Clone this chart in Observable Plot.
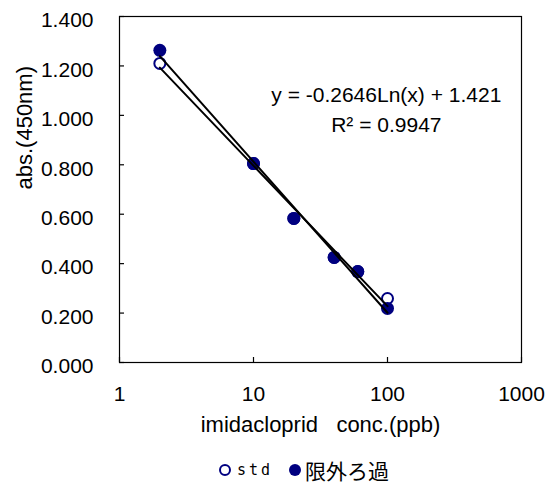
<!DOCTYPE html>
<html><head><meta charset="utf-8">
<script src="https://cdn.jsdelivr.net/npm/d3@7"></script>
<script src="https://cdn.jsdelivr.net/npm/@observablehq/plot@0.6"></script>
<style>
body{margin:0;background:#fff;font-family:"Liberation Sans",Arial,sans-serif;}
#legend{height:36px;display:flex;align-items:center;padding-left:219px;padding-top:4px;box-sizing:border-box;line-height:1;}
#legend span{line-height:1;}
#legend .sw{display:inline-block;width:12px;height:12px;border-radius:50%;box-sizing:border-box;}
</style>
</head><body><div id="chart"></div>
<script>
const concentrations = [2, 10, 20, 40, 60, 100];
const stdValues = [1.210, 0.805, 0.583, 0.425, 0.368, 0.259];
const ultraValues = [1.263, 0.805, 0.583, 0.425, 0.368, 0.219];
const seriesNames = ["std", "限外ろ過"];
const seriesColors = ["#000080", "#000080"];
const xTicks = [1, 10, 100, 1000];
const yTicks = [0, 0.2, 0.4, 0.6, 0.8, 1.0, 1.2, 1.4];
const xLabel = "imidacloprid\u00a0\u00a0\u00a0conc.(ppb)";
const yLabel = "abs.(450nm)";
const equationLines = ["y = -0.2646Ln(x) + 1.421", "R² = 0.9947"];
const equationX = [98, 98];
const equationY = [1.081, 0.959];

const table = concentrations.map((c, i) => ({c, std: stdValues[i], ultra: ultraValues[i]}));

function logFit(xs, ys) {
  const lx = xs.map(Math.log);
  const mx = d3.mean(lx), my = d3.mean(ys);
  const sxy = d3.sum(lx, (v, i) => (v - mx) * (ys[i] - my));
  const sxx = d3.sum(lx, v => (v - mx) ** 2);
  const a = sxy / sxx, b = my - a * mx;
  return d3.extent(xs).map(x => ({x, y: a * Math.log(x) + b}));
}

const W = 545, H = 450, mL = 119, mR = 24, mT = 16, mB = 88;
const fw = W - mL - mR, fh = H - mT - mB;

const chart = Plot.plot({
  width: W, height: H,
  marginLeft: mL, marginRight: mR, marginTop: mT, marginBottom: mB,
  style: {fontFamily: "'Liberation Sans', Arial, sans-serif", fontSize: "21px", color: "#000", background: "#fff"},
  x: {type: "log", domain: [1, 1000]},
  y: {domain: [0, 1.4]},
  marks: [
    Plot.frame({stroke: "#000", strokeWidth: 1.2}),
    Plot.tickY(yTicks, {y: d => d, insetRight: fw - 5, stroke: "#000", strokeWidth: 1.2}),
    Plot.tickX(xTicks, {x: d => d, insetTop: fh - 5, stroke: "#000", strokeWidth: 1.2}),
    Plot.axisX({ticks: xTicks, tickFormat: d => String(d), tickSize: 0, tickPadding: 24, label: null, fontSize: 21}),
    Plot.axisY({ticks: yTicks, tickFormat: d3.format(".3f"), tickSize: 0, tickPadding: 26, dy: 4, label: null, fontSize: 21}),
    Plot.text([xLabel], {frameAnchor: "bottom", dy: 69, fontSize: 22, fill: "#000"}),
    Plot.text([yLabel], {frameAnchor: "left", dx: -95, rotate: -90, fontSize: 22, fill: "#000"}),
    Plot.dot(table, {x: "c", y: "std", r: 5.5, stroke: seriesColors[0], strokeWidth: 2, fill: "#fff"}),
    Plot.dot(table, {x: "c", y: "ultra", r: 6.5, fill: seriesColors[1], stroke: "none"}),
    Plot.line(logFit(concentrations, stdValues), {x: "x", y: "y", stroke: "#000", strokeWidth: 2}),
    Plot.line(logFit(concentrations, ultraValues), {x: "x", y: "y", stroke: "#000", strokeWidth: 2}),
    Plot.text(equationLines, {x: (d, i) => equationX[i], y: (d, i) => equationY[i], fontSize: 21, fill: "#000"})
  ]
});
document.getElementById("chart").appendChild(chart);

const legend = document.createElement("div");
legend.id = "legend";
legend.innerHTML =
  `<span class="sw" style="border:2px solid ${seriesColors[0]};background:#fff"></span>` +
  `<span style="margin-left:6px;font-size:15px;letter-spacing:3px;font-family:'DejaVu Sans Mono',monospace">${seriesNames[0]}</span>` +
  `<span class="sw" style="background:${seriesColors[1]};margin-left:16px"></span>` +
  `<span style="margin-left:4px;font-size:21px;font-family:'Noto Sans CJK JP',sans-serif">${seriesNames[1]}</span>`;
document.body.appendChild(legend);
</script>
</body></html>
